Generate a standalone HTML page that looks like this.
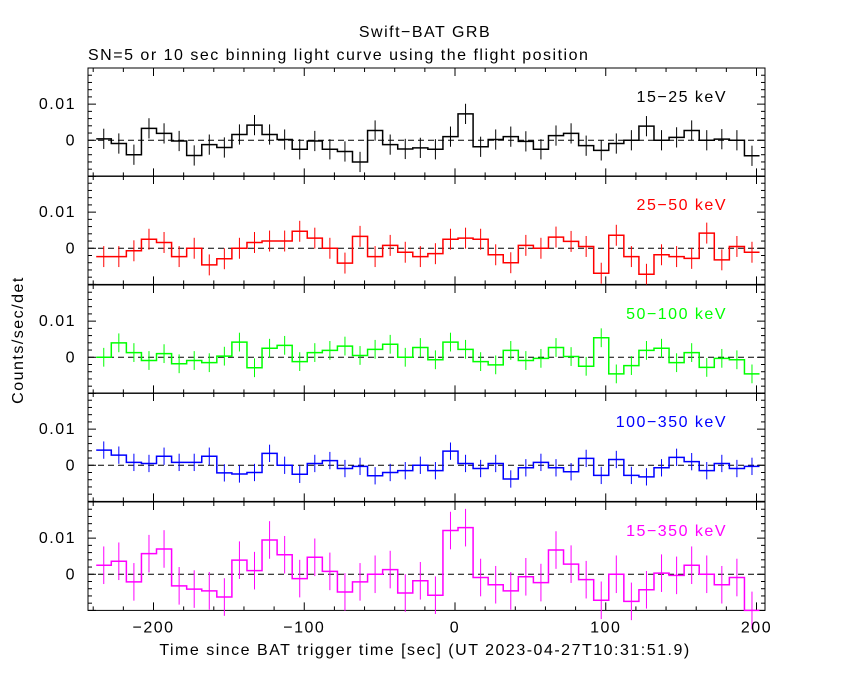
<!DOCTYPE html>
<html><head><meta charset="utf-8"><style>
body{margin:0;background:#fff;}
svg text{font-family:"Liberation Sans",sans-serif;font-size:16px;letter-spacing:1.5px;}
</style></head><body>
<svg id="chart" width="850" height="680" xmlns="http://www.w3.org/2000/svg">
<text x="425" y="37" text-anchor="middle">Swift−BAT GRB</text>
<text x="88" y="60">SN=5 or 10 sec binning light curve using the flight position</text>
<text transform="translate(23,340) rotate(-90)" text-anchor="middle">Counts/sec/det</text>
<text x="425" y="655" text-anchor="middle">Time since BAT trigger time [sec] (UT 2023-04-27T10:31:51.9)</text>
<g id="panels"></g>
</svg>
<script>
const binStart = -238;
const binWidth = 10;
const bands = ["15−25 keV","25−50 keV","50−100 keV","100−350 keV","15−350 keV"];
const colors = ["#000000","#ff0000","#00ff00","#0000ff","#ff00ff"];
const s1 = [0.0004,-0.0009,-0.004,0.0033,0.0019,-0.0002,-0.0042,-0.0012,-0.002,0.0016,0.0042,0.0016,0.0002,-0.0025,-0.0002,-0.0025,-0.0031,-0.006,0.0027,-0.0012,-0.0024,-0.0021,-0.0025,0.001,0.0073,-0.0018,0.0002,0.001,-0.0003,-0.0025,0.0013,0.0019,-0.0015,-0.0028,-0.0009,0,0.0039,0,0.0008,0.0027,0,0.0003,0,-0.0043];
const s2 = [-0.0023,-0.0023,-0.0007,0.0025,0.0016,-0.0023,0,-0.0046,-0.0029,0,0.0016,0.002,0.002,0.0047,0.0028,0,-0.0041,0.0033,-0.0023,0.0008,-0.0011,-0.0023,-0.0015,0.0025,0.0028,0.0025,-0.0018,-0.004,0.0008,0,0.0031,0.0019,0.0005,-0.0069,0.0036,-0.0023,-0.0072,-0.0018,-0.0023,-0.0028,0.0042,-0.0032,0.0005,-0.0011];
const s3 = [0,0.004,0.0013,-0.0009,0.001,-0.0018,-0.0009,-0.0015,0.0003,0.0042,-0.0029,0.0025,0.0033,-0.0012,0.0013,0.0019,0.0031,0.0005,0.0022,0.0036,0,0.0027,-0.0007,0.0042,0.0022,-0.0012,-0.0021,0.0019,-0.0009,-0.0003,0.0027,0.0002,-0.0025,0.0054,-0.0046,-0.0023,0.0019,0.0025,-0.0015,0.0013,-0.0028,-0.0003,-0.0007,-0.0046];
const s4 = [0.0042,0.0028,0.0008,0.0005,0.0025,0.0008,0.0008,0.0025,-0.0021,-0.0024,-0.002,0.0033,0,-0.0025,0.0005,0.0013,-0.0009,-0.0003,-0.0029,-0.002,-0.0015,0,-0.0015,0.0039,0.0005,-0.0009,0.0005,-0.0038,-0.0007,0.0008,-0.0007,-0.0018,0.0019,-0.0028,0.0016,-0.0028,-0.0032,-0.0007,0.0022,0.001,-0.0015,0.0005,-0.0009,-0.0003];
const s5 = [0.0025,0.0036,-0.0021,0.0057,0.007,-0.0032,-0.0041,-0.0046,-0.0063,0.0039,0.001,0.0095,0.0054,-0.0012,0.0047,0.0008,-0.0049,-0.0021,0,0.0013,-0.0052,-0.0018,-0.0058,0.0121,0.0129,-0.0009,-0.0029,-0.0046,-0.0007,-0.0023,0.0067,0.0028,-0.0015,-0.0072,0,-0.0075,-0.0043,0.0003,-0.0003,0.0025,0,-0.0029,-0.0009,-0.01];
const errs = [0.0028,0.0029,0.0026,0.0024,0.0052];
const series = [s1,s2,s3,s4,s5];
const xTicks = [-200,-100,0,100,200];
const yTicks = [0,0.01];
const yTickLabels = ["0","0.01"];

const NS="http://www.w3.org/2000/svg";
const L=88,R=765,tops=[68,176,285,393,502],H=108.4;
const X=t=>455+1.5075*t;
function mk(tag,attrs,parent){const e=document.createElementNS(NS,tag);for(const k in attrs)e.setAttribute(k,attrs[k]);parent.appendChild(e);return e;}
const g=document.getElementById('panels');
series.forEach((s,p)=>{
  const top=tops[p],Y=v=>top+H*(0.02-v)/0.03;
  const pg=mk('g',{},g);
  
  
  const fr=mk('rect',{x:L,y:top,width:R-L,height:H,fill:'none',stroke:'#000','stroke-width':1},pg);
  
  
  for(let t=-240;t<=200;t+=20){const x=X(t);const len=(t%100===0)?8:4;
    mk('line',{x1:x,y1:top,x2:x,y2:top+len,stroke:'#000'},pg);
    mk('line',{x1:x,y1:top+H,x2:x,y2:top+H-len,stroke:'#000'},pg);}
  for(let k=-5;k<=10;k++){const v=k*0.002;const y=Y(v);if(y<top||y>top+H)continue;const len=(k%5===0)?8:4;
    mk('line',{x1:L,y1:y,x2:L+len,y2:y,stroke:'#000'},pg);
    mk('line',{x1:R,y1:y,x2:R-len,y2:y,stroke:'#000'},pg);}
  yTicks.forEach((v,i)=>{const tl=mk('text',{x:L-12,y:Y(v)+5,'text-anchor':'end'},pg);tl.textContent=yTickLabels[i];
    
    });
  const zl=mk('line',{x1:L,y1:Y(0),x2:R,y2:Y(0),stroke:'#000','stroke-dasharray':'6,4'},pg);
  
  
  let d='';
  s.forEach((v,i)=>{const x0=X(binStart+i*binWidth),x1=X(binStart+(i+1)*binWidth),y=Y(v);
    d+=(i===0?'M':'L')+x0+','+y+'L'+x1+','+y;
    const xc=(x0+x1)/2;
    const eb=mk('line',{x1:xc,y1:Y(v+errs[p]),x2:xc,y2:Y(v-errs[p]),stroke:colors[p]},pg);
    
    });
  const path=mk('path',{d:d,fill:'none',stroke:colors[p],'stroke-width':1.5},pg);
  
  
  const lb=mk('text',{x:727,y:top+34,'text-anchor':'end',fill:colors[p]},pg);
  lb.textContent=bands[p];
  
  
  if(p===4){xTicks.forEach(t=>{const tl=mk('text',{x:X(t),y:top+H+22,'text-anchor':'middle'},pg);tl.textContent=String(t).replace('-','−');
    
    });}
});
</script>
</body></html>
